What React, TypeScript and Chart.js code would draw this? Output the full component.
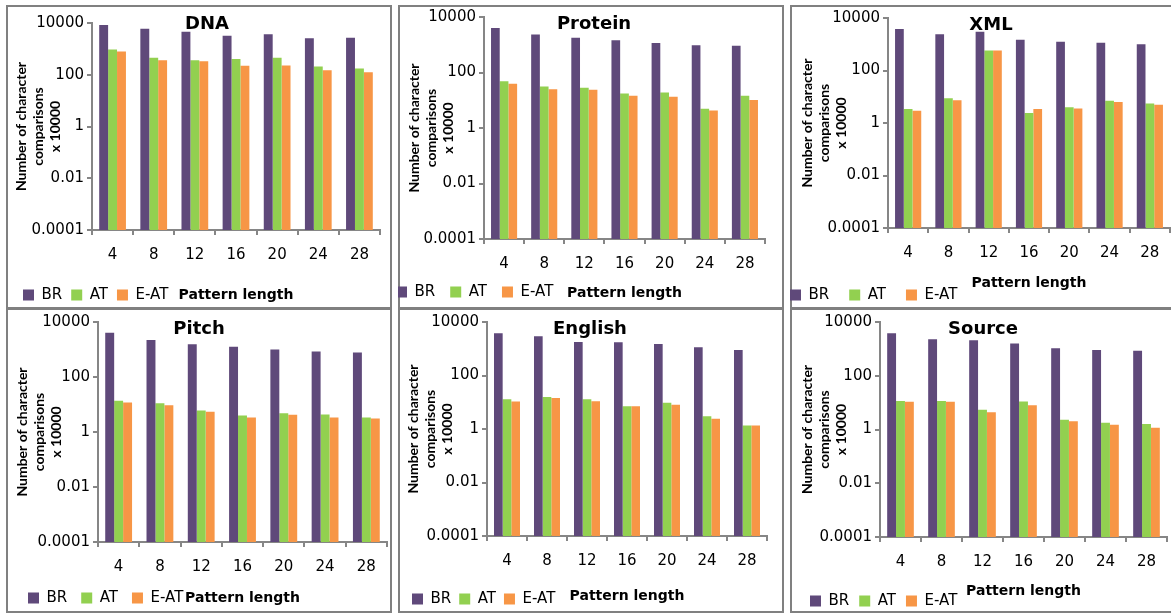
import React, { useEffect, useRef } from "react";
import { Chart, registerables } from "chart.js";

Chart.register(...registerables);

// ---------- data ----------
const patternLengths = ["4", "8", "12", "16", "20", "24", "28"];
const seriesNames = ["BR", "AT", "E-AT"];
const seriesColors = ["#5F497A", "#92D050", "#F79646"];
const yTickValues = [0.0001, 0.01, 1, 100, 10000];
const yTickLabels = ["0.0001", "0.01", "1", "100", "10000"];
const yAxisTitle = ["Number of character", "comparisons", "x 10000"];
const xAxisTitle = "Pattern length";
const panelTitles = ["DNA", "Protein", "XML", "Pitch", "English", "Source"];

const dnaBR = [8400, 6000, 4600, 3250, 3650, 2550, 2700];
const dnaAT = [940, 455, 360, 405, 455, 210, 175];
const dnaEAT = [790, 360, 330, 225, 230, 150, 124];

const proteinBR = [4000, 2350, 1790, 1440, 1150, 950, 920];
const proteinAT = [48, 31.6, 28, 17.6, 19, 4.9, 14.5];
const proteinEAT = [39, 25, 24, 14.5, 13.3, 4.3, 10.2];

const xmlBR = [3800, 2380, 3000, 1490, 1250, 1150, 1000];
const xmlAT = [3.4, 8.7, 575, 2.4, 4.0, 7.1, 5.5];
const xmlEAT = [2.9, 7.3, 575, 3.4, 3.6, 6.3, 5.0];

const pitchBR = [4100, 2230, 1540, 1260, 1000, 850, 775];
const pitchAT = [13.8, 11.1, 6.0, 4.0, 4.8, 4.3, 3.4];
const pitchEAT = [11.7, 9.4, 5.5, 3.4, 4.2, 3.4, 3.1];

const englishBR = [3780, 2930, 1790, 1740, 1520, 1130, 890];
const englishAT = [12.9, 15.8, 12.9, 7.1, 9.5, 3.0, 1.35];
const englishEAT = [10.6, 14.5, 10.9, 7.1, 8.0, 2.4, 1.35];

const sourceBR = [3780, 2260, 2080, 1600, 1050, 910, 860];
const sourceAT = [11.4, 11.4, 5.4, 11.0, 2.3, 1.8, 1.6];
const sourceEAT = [10.7, 10.7, 4.4, 8.0, 2.04, 1.5, 1.15];

const panelSeries = [
  [dnaBR, dnaAT, dnaEAT],
  [proteinBR, proteinAT, proteinEAT],
  [xmlBR, xmlAT, xmlEAT],
  [pitchBR, pitchAT, pitchEAT],
  [englishBR, englishAT, englishEAT],
  [sourceBR, sourceAT, sourceEAT],
];

// ---------- layout (not data) ----------
const panelBoxes = [
  { left: 6, top: 5, w: 386, h: 304 },
  { left: 398, top: 5, w: 386, h: 304 },
  { left: 790, top: 5, w: 384, h: 304 },
  { left: 6, top: 308, w: 386, h: 305 },
  { left: 398, top: 308, w: 386, h: 305 },
  { left: 790, top: 308, w: 384, h: 305 },
];

const panelLayouts = [
  { yAxisX: 86, top: 18, bottom: 225, right: 374, legendX: 17, legendY: 290, legendPad: 9, xTitleY: 290, titleX: 201, titleY: 19, yTitleX: 15 },
  { yAxisX: 86, top: 12, bottom: 234, right: 367, legendX: -2, legendY: 287, legendPad: 15, xTitleY: 288, titleX: 196, titleY: 19, yTitleX: 16 },
  { yAxisX: 98, top: 13, bottom: 223, right: 380, legendX: 0, legendY: 290, legendPad: 20, xTitleY: 278, titleX: 201, titleY: 20, yTitleX: 17 },
  { yAxisX: 92, top: 14, bottom: 234, right: 381, legendX: 22, legendY: 290, legendPad: 14, xTitleY: 290, titleX: 193, titleY: 21, yTitleX: 16 },
  { yAxisX: 89, top: 14, bottom: 228, right: 369, legendX: 14, legendY: 291, legendPad: 8, xTitleY: 288, titleX: 192, titleY: 21, yTitleX: 15 },
  { yAxisX: 90, top: 14, bottom: 229, right: 377, legendX: 20, legendY: 293, legendPad: 10, xTitleY: 283, titleX: 193, titleY: 21, yTitleX: 17 },
];

const AXIS_GRAY = "#868686";
const FONT = "'DejaVu Sans', sans-serif";

const panelTitlePlugin = {
  id: "panelTitle",
  afterDraw(chart: any, _args: any, opts: any) {
    const ctx = chart.ctx;
    ctx.save();
    ctx.font = "bold 18px " + FONT;
    ctx.fillStyle = "#000";
    ctx.textAlign = "center";
    ctx.textBaseline = "middle";
    ctx.fillText(opts.text, opts.x, opts.y);
    ctx.restore();
  },
};

function Panel({ idx }: { idx: number }) {
  const ref = useRef<HTMLCanvasElement>(null);
  const box = panelBoxes[idx];
  const lay = panelLayouts[idx];

  useEffect(() => {
    const canvas = ref.current as HTMLCanvasElement;
    const W = box.w;
    const H = box.h;
    const P = lay.legendPad;
    const legendFont = 15;
    const pl = lay.legendX - P;
    const wy = lay.yAxisX - pl;
    const pr = W - lay.right;
    const pt = lay.top;
    const pb = H - 10 - legendFont / 2 - lay.legendY;
    const legendTop = lay.legendY - legendFont / 2 - P;
    const hx = legendTop - lay.bottom;
    const xTitleLH = 14 * 1.2;
    const xTitlePadBottom = legendTop - lay.xTitleY - xTitleLH / 2;
    const yTitleSize = 14;
    const yTitleLH = 17;
    const yTitlePadTop = lay.yTitleX - pl - yTitleLH / 2;

    const series = panelSeries[idx];
    const chart = new Chart(canvas, {
      type: "bar",
      data: {
        labels: patternLengths,
        datasets: seriesNames.map((name, i) => ({
          label: name,
          data: series[i],
          backgroundColor: seriesColors[i],
          borderWidth: 0,
          barPercentage: 1,
          categoryPercentage: 0.65,
        })),
      },
      options: {
        animation: false,
        responsive: false,
        devicePixelRatio: 1,
        layout: { padding: { left: pl, right: pr, top: pt, bottom: pb } },
        font: { family: FONT },
        plugins: {
          title: { display: false },
          tooltip: { enabled: false },
          legend: {
            display: true,
            position: "bottom",
            align: "start",
            labels: {
              boxWidth: 11,
              boxHeight: 11,
              padding: P,
              color: "#000",
              font: { family: FONT, size: legendFont },
            },
          },
          panelTitle: { text: panelTitles[idx], x: lay.titleX, y: lay.titleY },
        } as any,
        scales: {
          x: {
            type: "category",
            offset: true,
            afterFit: (scale: any) => {
              scale.height = hx;
            },
            grid: {
              display: true,
              drawOnChartArea: false,
              drawTicks: true,
              tickLength: 5,
              offset: true,
              color: AXIS_GRAY,
              lineWidth: 2,
            },
            border: { display: true, color: AXIS_GRAY, width: 2 },
            ticks: {
              color: "#000",
              font: { family: FONT, size: 15 },
              padding: 11,
              maxRotation: 0,
              autoSkip: false,
            },
            title: {
              display: true,
              text: xAxisTitle,
              color: "#000",
              font: { family: FONT, size: 14, weight: "bold", lineHeight: 1.2 },
              padding: { top: 0, bottom: xTitlePadBottom },
            },
          },
          y: {
            type: "logarithmic",
            min: 0.0001,
            max: 10000,
            afterFit: (scale: any) => {
              scale.width = wy;
            },
            afterBuildTicks: (scale: any) => {
              scale.ticks = yTickValues.map((v) => ({ value: v }));
            },
            grid: {
              display: true,
              drawOnChartArea: false,
              drawTicks: true,
              tickLength: 5,
              color: AXIS_GRAY,
              lineWidth: 2,
            },
            border: { display: true, color: AXIS_GRAY, width: 2 },
            ticks: {
              color: "#000",
              font: { family: FONT, size: 15 },
              padding: 3,
              autoSkip: false,
              callback: (_v: any, i: number) => yTickLabels[i],
            },
            title: {
              display: true,
              text: yAxisTitle,
              color: "#000",
              font: { family: "Lato, sans-serif", size: yTitleSize, weight: "bold", lineHeight: yTitleLH / yTitleSize },
              padding: { top: yTitlePadTop, bottom: 0 },
            },
          },
        },
      } as any,
      plugins: [panelTitlePlugin as any],
    });
    return () => chart.destroy();
  }, []);

  return (
    <>
      <div
        style={{
          position: "absolute",
          left: box.left,
          top: box.top,
          width: box.w,
          height: box.h,
          border: "2px solid #808080",
          boxSizing: "border-box",
        }}
      />
      <canvas
        ref={ref}
        width={box.w}
        height={box.h}
        style={{ position: "absolute", left: box.left, top: box.top, width: box.w, height: box.h }}
      />
    </>
  );
}

export default function App() {
  return (
    <div
      style={{
        position: "absolute",
        left: 0,
        top: 0,
        width: 1171,
        height: 613,
        overflow: "hidden",
        background: "#fff",
      }}
    >
      {panelTitles.map((_, i) => (
        <Panel key={i} idx={i} />
      ))}
    </div>
  );
}
